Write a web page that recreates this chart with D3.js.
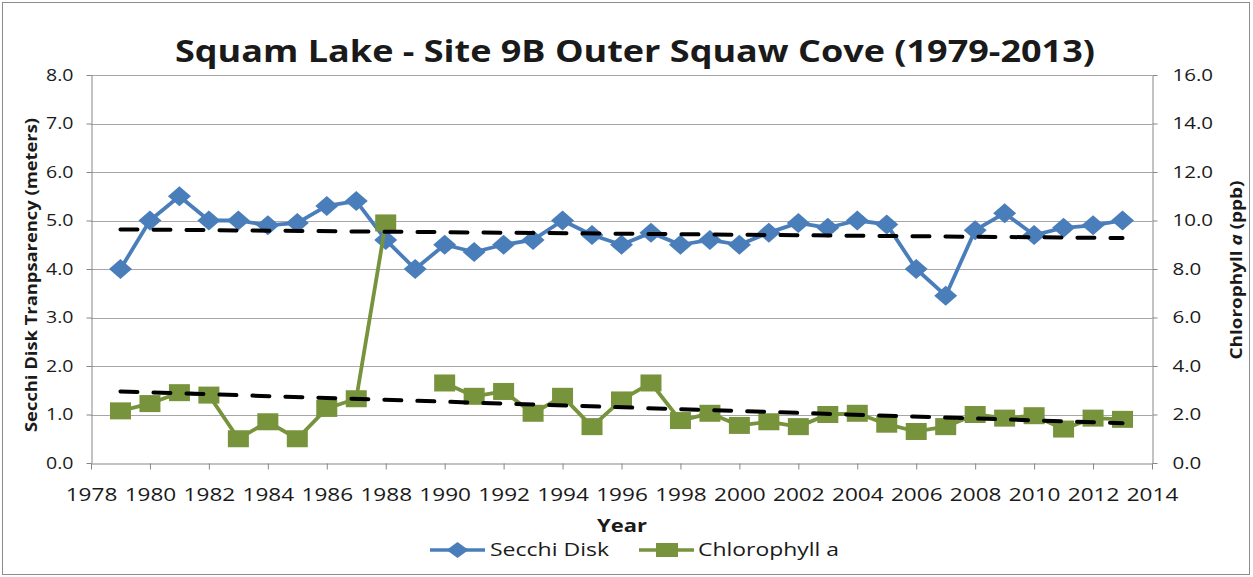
<!DOCTYPE html>
<html><head><meta charset="utf-8">
<script src="https://cdn.jsdelivr.net/npm/d3@7"></script>
<style>
html,body{margin:0;padding:0;background:#fff;}
svg{display:block;}
text{font-family:"Open Sans",sans-serif;fill:#1a1a1a;}
</style></head>
<body>
<svg id="c" width="1253" height="577"></svg>
<script>
// ---- data ----
const years = [1979,1980,1981,1982,1983,1984,1985,1986,1987,1988,1989,1990,1991,1992,1993,1994,1995,1996,1997,1998,1999,2000,2001,2002,2003,2004,2005,2006,2007,2008,2009,2010,2011,2012,2013];
const secchi = [4.0,5.0,5.5,5.0,5.0,4.9,4.95,5.3,5.4,4.6,4.0,4.5,4.35,4.5,4.6,5.0,4.7,4.5,4.75,4.5,4.6,4.5,4.75,4.95,4.85,5.0,4.92,4.0,3.45,4.8,5.15,4.7,4.85,4.9,5.0];
const chlorophyll = [2.15,2.45,2.9,2.8,1.0,1.7,1.0,2.25,2.65,9.9,null,3.3,2.75,2.95,2.05,2.75,1.5,2.6,3.3,1.75,2.05,1.55,1.7,1.5,2.0,2.05,1.6,1.3,1.5,2.0,1.85,1.95,1.4,1.85,1.8];
const xTicks = [1978,1980,1982,1984,1986,1988,1990,1992,1994,1996,1998,2000,2002,2004,2006,2008,2010,2012,2014];
const leftTicks = [0,1,2,3,4,5,6,7,8];
const rightTicks = [0,2,4,6,8,10,12,14,16];
const titleText = "Squam Lake - Site 9B Outer Squaw Cove (1979-2013)";
const seriesNames = ["Secchi Disk","Chlorophyll a"];

// ---- layout ----
const BLUE = "#4A7EBB", GREEN = "#77933C";
const SX = 1.22; // horizontal stretch of the reference image
const svg = d3.select("#c");
const L = 91, R = 1152, T = 75, B = 463;
const x = d3.scaleLinear().domain([1978,2014]).range([L,R]);
const yL = d3.scaleLinear().domain([0,8]).range([B,T]);
const yR = d3.scaleLinear().domain([0,16]).range([B,T]);

function stretch(sel, f){ sel.each(function(){ const w=this.getComputedTextLength(); d3.select(this).attr("textLength", w*f).attr("lengthAdjust","spacingAndGlyphs"); }); }
function fitTo(sel, w){ sel.attr("textLength", w).attr("lengthAdjust","spacingAndGlyphs"); }

// outer border
svg.append("rect").attr("x",2.5).attr("y",2.5).attr("width",1247).attr("height",572).attr("fill","none").attr("stroke","#8c8c8c").attr("stroke-width",1);

// gridlines
svg.append("g").selectAll("line").data(leftTicks.filter(d=>d>0)).join("line")
  .attr("x1",L).attr("x2",R).attr("y1",d=>Math.round(yL(d))+0.5).attr("y2",d=>Math.round(yL(d))+0.5)
  .attr("stroke","#a6a6a6").attr("stroke-width",1);

// axes
const gx = svg.append("g").attr("transform",`translate(0,${Math.round(B)+0.5})`)
  .call(d3.axisBottom(x).tickValues(xTicks).tickFormat(d3.format("d")).tickSize(6).tickSizeOuter(0));
gx.select(".domain").attr("stroke","#868686");
gx.selectAll(".tick line").attr("stroke","#868686");
gx.selectAll(".tick text").attr("font-size",18.5).attr("fill","#1a1a1a").attr("y",0).attr("dy",0).attr("transform","translate(0,37)").call(stretch,SX);

const gl = svg.append("g").attr("transform",`translate(${L+0.5},0)`)
  .call(d3.axisLeft(yL).tickValues(leftTicks).tickFormat(d3.format(".1f")).tickSize(5).tickSizeOuter(0));
gl.select(".domain").attr("stroke","#868686");
gl.selectAll(".tick line").attr("stroke","#868686");
gl.selectAll(".tick text").attr("font-size",16).attr("fill","#1a1a1a").attr("x",-18).call(stretch,SX);

const gr = svg.append("g").attr("transform",`translate(${R+0.5},0)`)
  .call(d3.axisRight(yR).tickValues(rightTicks).tickFormat(d3.format(".1f")).tickSize(5).tickSizeOuter(0));
gr.select(".domain").attr("stroke","#868686");
gr.selectAll(".tick line").attr("stroke","#868686");
gr.selectAll(".tick text").attr("font-size",16).attr("fill","#1a1a1a").attr("x",20).call(stretch,SX*1.05);

// title
svg.append("text").attr("x",635).attr("y",62).attr("text-anchor","middle").attr("font-size",30).attr("font-weight",700).text(titleText).call(fitTo,920);

// axis titles
svg.append("text").attr("x",622).attr("y",532).attr("text-anchor","middle").attr("font-size",18).attr("font-weight",700).text("Year").call(stretch,SX);
svg.append("text").attr("transform","translate(37,275) rotate(-90)").attr("text-anchor","middle").attr("font-size",16.5).attr("font-weight",700).text("Secchi Disk Tranpsarency (meters)").call(fitTo,314);
const rt = svg.append("text").attr("transform","translate(1242,270) rotate(-90)").attr("text-anchor","middle").attr("font-size",16.5).attr("font-weight",700);
rt.append("tspan").text("Chlorophyll ");
rt.append("tspan").attr("font-style","italic").text("a");
rt.append("tspan").text(" (ppb)");
fitTo(rt,179);

// series
const secData = years.map((yr,i)=>({yr, v:secchi[i]}));
const chlData = years.map((yr,i)=>({yr, v:chlorophyll[i]}));
const diamond = (cx,cy,hw,hh)=>`M${cx},${cy-hh}L${cx+hw},${cy}L${cx},${cy+hh}L${cx-hw},${cy}Z`;

svg.append("path").datum(secData).attr("fill","none").attr("stroke",BLUE).attr("stroke-width",3.8).attr("stroke-linejoin","round")
  .attr("d",d3.line().x(d=>x(d.yr)).y(d=>yL(d.v)));
svg.append("g").selectAll("path").data(secData).join("path").attr("fill",BLUE)
  .attr("d",d=>diamond(x(d.yr),yL(d.v),11.5,10));

svg.append("path").datum(chlData).attr("fill","none").attr("stroke",GREEN).attr("stroke-width",3.8).attr("stroke-linejoin","round")
  .attr("d",d3.line().defined(d=>d.v!=null).x(d=>x(d.yr)).y(d=>yR(d.v)));
svg.append("g").selectAll("rect").data(chlData.filter(d=>d.v!=null)).join("rect").attr("fill",GREEN)
  .attr("x",d=>x(d.yr)-10.5).attr("y",d=>yR(d.v)-8.5).attr("width",21).attr("height",17);

// linear trendlines (least squares from the data)
function linreg(pts){
  const mx=d3.mean(pts,p=>p[0]), my=d3.mean(pts,p=>p[1]);
  const sxy=d3.sum(pts,p=>(p[0]-mx)*(p[1]-my)), sxx=d3.sum(pts,p=>(p[0]-mx)**2);
  const b=sxy/sxx; return t=>my+b*(t-mx);
}
const fS = linreg(secData.map(d=>[d.yr,d.v]));
const fC = linreg(chlData.filter(d=>d.v!=null).map(d=>[d.yr,d.v]));
const x0 = years[0], x1 = years[years.length-1];
svg.append("line").attr("x1",x(x0)).attr("x2",x(x1)).attr("y1",yL(fS(x0))).attr("y2",yL(fS(x1)))
  .attr("stroke","#000").attr("stroke-width",4).attr("stroke-dasharray","17,16").attr("stroke-linecap","round");
svg.append("line").attr("x1",x(x0)).attr("x2",x(x1)).attr("y1",yR(fC(x0))).attr("y2",yR(fC(x1)))
  .attr("stroke","#000").attr("stroke-width",4).attr("stroke-dasharray","17,16").attr("stroke-linecap","round");

// legend
const lg = svg.append("g");
lg.append("line").attr("x1",430).attr("x2",485).attr("y1",550).attr("y2",550).attr("stroke",BLUE).attr("stroke-width",3.5);
lg.append("path").attr("fill",BLUE).attr("d",diamond(457.5,550,11,8));
lg.append("text").attr("x",490).attr("y",556).attr("font-size",18).text(seriesNames[0]).call(fitTo,119);
lg.append("line").attr("x1",639).attr("x2",694).attr("y1",550).attr("y2",550).attr("stroke",GREEN).attr("stroke-width",3.5);
lg.append("rect").attr("fill",GREEN).attr("x",656).attr("y",543).attr("width",22).attr("height",14);
lg.append("text").attr("x",698).attr("y",556).attr("font-size",18).text(seriesNames[1]).call(fitTo,141);
</script>
</body></html>
